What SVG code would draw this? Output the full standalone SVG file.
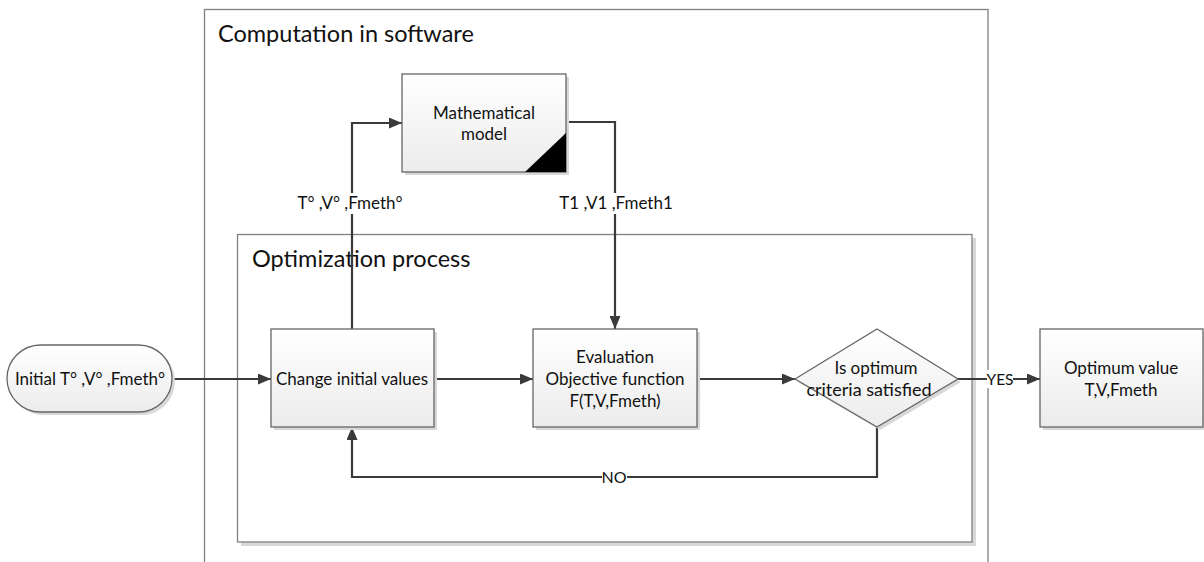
<svg xmlns="http://www.w3.org/2000/svg" width="1204" height="562" viewBox="0 0 1204 562">
  <defs>
    <linearGradient id="boxFill" x1="0" y1="0" x2="0" y2="1">
      <stop offset="0" stop-color="#ffffff"/>
      <stop offset="1" stop-color="#ececec"/>
    </linearGradient>
    <marker id="arrow" viewBox="0 0 13 11" refX="13" refY="5.5" markerWidth="13" markerHeight="11" markerUnits="userSpaceOnUse" orient="auto">
      <path d="M0,0 L13,5.5 L0,11 Z" fill="#3a3a3a"/>
    </marker>
  </defs>
  <style>
    text { font-family: Lato, "Liberation Sans", sans-serif; fill: #111; }
    .node { fill: url(#boxFill); stroke: #666; stroke-width: 1.3; }
    .shadow { fill: #d8d8d8; stroke: none; }
    .frame { fill: none; stroke: #808080; stroke-width: 1.3; }
    .lbl { font-size: 17px; text-anchor: middle; }
    .edgelbl { font-size: 17px; text-anchor: middle; }
    .title { font-size: 23.5px; }
    .edge { fill: none; stroke: #3a3a3a; stroke-width: 2.2; }
    .arrowed { marker-end: url(#arrow); }
    .mask { fill: #ffffff; }
  </style>

  <rect width="1204" height="562" fill="#ffffff"/>

  <!-- outer container -->
  <g id="computation">
    <rect class="frame" x="204.5" y="9.5" width="783.5" height="560"/>
    <text class="title" x="218" y="42">Computation in software</text>
  </g>

  <!-- inner container -->
  <g id="optimization">
    <rect class="shadow" x="241" y="238" width="735" height="308"/>
    <rect x="237.5" y="234.5" width="734.5" height="307.5" fill="#ffffff" stroke="#808080" stroke-width="1.3"/>
    <text class="title" x="252" y="267">Optimization process</text>
  </g>

  <!-- connectors -->
  <g id="connectors">
    <path class="edge arrowed" d="M172,379 H271"/>
    <path class="edge arrowed" d="M352,329 V123 H402"/>
    <path class="edge arrowed" d="M566,122 H615 V329"/>
    <path class="edge arrowed" d="M434,379 H533"/>
    <path class="edge arrowed" d="M697,379 H795"/>
    <path class="edge arrowed" d="M958,379 H1040"/>
    <path class="edge arrowed" d="M877,427 V477 H352 V427"/>

    <rect class="mask" x="294" y="193" width="112" height="21"/>
    <text class="edgelbl" x="350" y="209">T° ,V° ,Fmeth°</text>
    <rect class="mask" x="558" y="193" width="116" height="21"/>
    <text class="edgelbl" x="616" y="209">T1 ,V1 ,Fmeth1</text>
    <rect class="mask" x="987" y="370" width="26" height="18"/>
    <text class="edgelbl" x="1000" y="385" style="font-size:15.5px">YES</text>
    <rect class="mask" x="602" y="468" width="25" height="18"/>
    <text class="edgelbl" x="614" y="483" style="font-size:16px">NO</text>
  </g>

  <g id="initial">
    <rect class="shadow" x="10" y="348" width="165" height="67" rx="33.5"/>
    <rect class="node" x="7" y="345" width="165" height="67" rx="33.5"/>
    <text class="lbl" x="90" y="385">Initial T° ,V° ,Fmeth°</text>
  </g>

  <g id="change">
    <rect class="shadow" x="274" y="332" width="163" height="98"/>
    <rect class="node" x="271" y="329" width="163" height="98"/>
    <text class="lbl" x="352" y="385">Change initial values</text>
  </g>

  <g id="model">
    <rect class="shadow" x="405" y="77" width="164" height="98"/>
    <rect class="node" x="402" y="74" width="164" height="98"/>
    <path d="M525,172 H566 V133 Z" fill="#000000"/>
    <text class="lbl" x="484" y="119">Mathematical</text>
    <text class="lbl" x="484" y="140">model</text>
  </g>

  <g id="evaluation">
    <rect class="shadow" x="536" y="332" width="164" height="98"/>
    <rect class="node" x="533" y="329" width="164" height="98"/>
    <text class="lbl" x="615" y="363">Evaluation</text>
    <text class="lbl" x="615" y="385">Objective function</text>
    <text class="lbl" x="615" y="407">F(T,V,Fmeth)</text>
  </g>

  <g id="decision">
    <path class="shadow" d="M798,382 L880,332 L961,382 L880,430 Z"/>
    <path class="node" d="M795,379 L877,329 L958,379 L877,427 Z"/>
    <text class="lbl" x="876" y="374">Is optimum</text>
    <text class="lbl" x="869" y="396" style="font-size:18px">criteria satisfied</text>
  </g>

  <g id="optimum">
    <rect class="shadow" x="1043" y="332" width="164" height="98"/>
    <rect class="node" x="1040" y="329" width="163" height="98"/>
    <text class="lbl" x="1121" y="374">Optimum value</text>
    <text class="lbl" x="1121" y="396">T,V,Fmeth</text>
  </g>
</svg>
